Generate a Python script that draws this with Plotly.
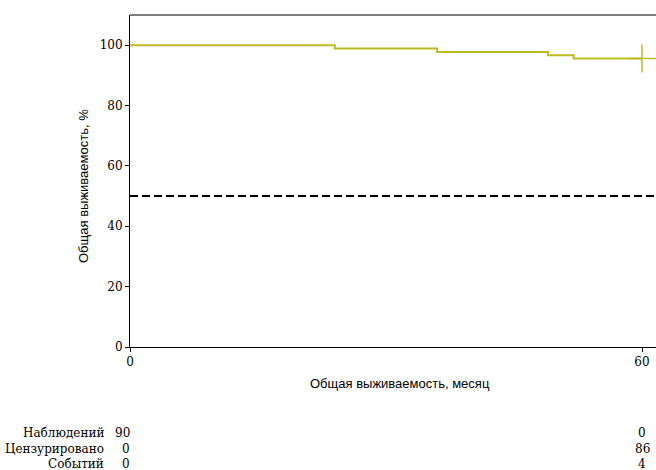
import plotly.graph_objects as go

# Kaplan–Meier input: cohort size, event times (months), follow-up end
n_total = 90
event_times = [24, 36, 49, 52]
follow_up_end = 60

# Risk table
risk_rows = ["Наблюдений", "Цензурировано", "Событий"]
risk_times = [0, 60]
risk_values = [[90, 0], [0, 86], [0, 4]]

x_ticks = [0, 60]
y_ticks = [0, 20, 40, 60, 80, 100]

# Step curve from the product-limit estimator
times = [0]
surv = [100.0]
at_risk = n_total
s = 1.0
for t in event_times:
    s *= (at_risk - 1) / at_risk
    at_risk -= 1
    times.append(t)
    surv.append(s * 100)
times.append(follow_up_end)
surv.append(surv[-1])

OLIVE = "#bcbd22"
SERIF = "DejaVu Serif"
SANS = "Liberation Sans"

W, H = 656, 470
L, R, T, B = 130, 0, 15, 123
plot_w = W - L - R
plot_h = H - T - B
x_max = 61.64
y_max = 110


def py(pix):
    """Pixel row (from top of page) -> paper y."""
    return (H - B - pix) / plot_h


def px(pix):
    """Pixel column -> paper x."""
    return (pix - L) / plot_w


fig = go.Figure()

fig.add_trace(go.Scatter(
    x=times, y=surv, mode="lines",
    line=dict(color=OLIVE, width=2, shape="hv"),
    hoverinfo="skip", showlegend=False,
))
fig.add_trace(go.Scatter(
    x=[follow_up_end], y=[surv[-1]], mode="markers",
    marker=dict(symbol="cross-thin", size=20, line=dict(color=OLIVE, width=1.5)),
    hoverinfo="skip", showlegend=False,
))

# median reference line
fig.add_shape(type="line", xref="paper", yref="y", x0=0, x1=1, y0=50, y1=50,
              line=dict(color="black", width=2, dash="8px,4px"))
# top frame line
fig.add_shape(type="line", xref="paper", yref="paper", x0=0, x1=1, y0=1, y1=1,
              line=dict(color="black", width=1))

annotations = [
    dict(text="Общая выживаемость, %", xref="paper", yref="paper",
         x=px(83), y=py(186), textangle=-90, showarrow=False,
         font=dict(family=SANS, size=13, color="black"),
         xanchor="center", yanchor="middle"),
    dict(text="Общая выживаемость, месяц", xref="paper", yref="paper",
         x=px(400), y=py(383), showarrow=False,
         font=dict(family=SANS, size=13, color="black"),
         xanchor="center", yanchor="middle"),
]

row_y = [433, 448.5, 464]
for label, vals, ypix in zip(risk_rows, risk_values, row_y):
    annotations.append(dict(
        text=label, xref="paper", yref="paper", x=px(106), y=py(ypix),
        showarrow=False, xanchor="right", yanchor="middle",
        font=dict(family=SERIF, size=12, color="black")))
    # first column right-aligned at the origin, last column centred on its tick
    for i, (t, v) in enumerate(zip(risk_times, vals)):
        annotations.append(dict(
            text=str(v), xref="x", yref="paper", x=t, y=py(ypix),
            showarrow=False, xanchor="right" if i == 0 else "center",
            xshift=2 if i == 0 else 0, yanchor="middle",
            font=dict(family=SERIF, size=12, color="black")))

fig.update_layout(
    width=W, height=H,
    margin=dict(l=L, r=R, t=T, b=B, pad=0),
    paper_bgcolor="white", plot_bgcolor="white",
    font=dict(family=SERIF, size=12, color="black"),
    annotations=annotations,
    xaxis=dict(
        range=[0, x_max], tickvals=x_ticks, ticks="outside", ticklen=4,
        tickcolor="black", showline=True, linecolor="black", linewidth=1,
        showgrid=False, zeroline=False,
        tickfont=dict(family=SERIF, size=12, color="black"),
    ),
    yaxis=dict(
        range=[0, y_max], tickvals=y_ticks, ticks="outside", ticklen=4,
        tickcolor="black", showline=True, linecolor="black", linewidth=1,
        showgrid=False, zeroline=False,
        tickfont=dict(family=SERIF, size=12, color="black"),
    ),
)

fig.write_html("out.html")
